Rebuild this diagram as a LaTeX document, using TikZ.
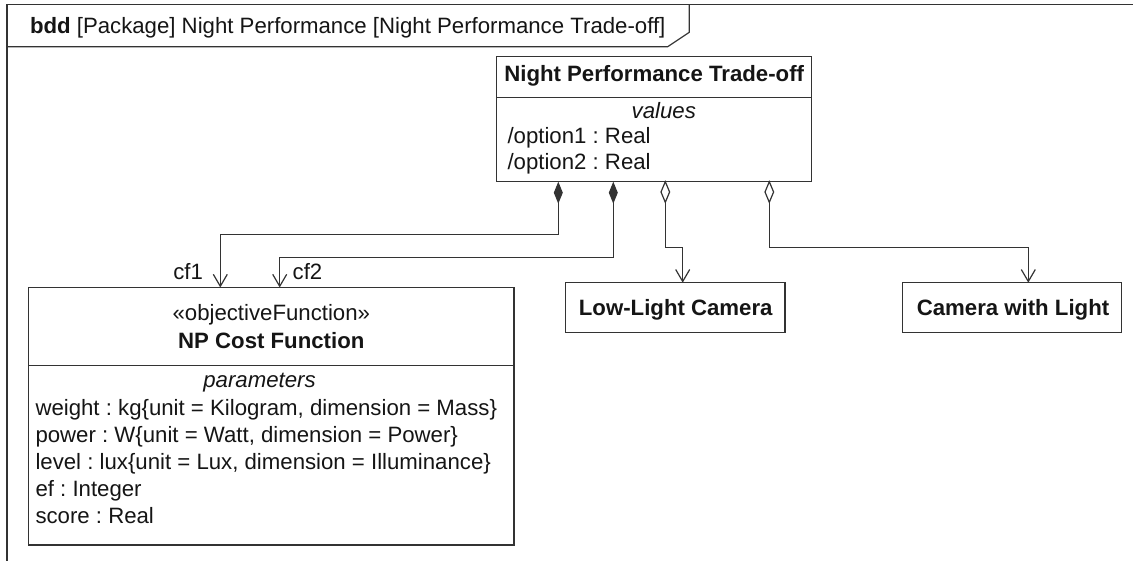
\documentclass[tikz,border=0pt]{standalone}
\usepackage{fontspec}
\setmainfont{Liberation Sans}
\usetikzlibrary{arrows.meta}
\definecolor{ln}{HTML}{333333}
\definecolor{tx}{HTML}{151515}
\frenchspacing
\begin{document}
\begin{tikzpicture}[x=1pt,y=-1pt,
  every node/.style={inner sep=0pt, outer sep=0pt, text=tx, font=\fontsize{22.2}{26}\selectfont\frenchspacing},
  box/.style={draw=ln, line width=1.2pt, rectangle, anchor=north west},
  lbl/.style={anchor=base},
  lbll/.style={anchor=base west},
  conn/.style={draw=ln, line width=1.2pt},
  compo/.style={conn, {Diamond[length=22pt,width=9pt]}-{Straight Barb[length=12pt,width=14pt]}},
  aggr/.style={conn, -{Straight Barb[length=12pt,width=14pt]}},
  odmd/.style={draw=ln, line width=1.2pt, fill=white, line join=miter}
]
\useasboundingbox (0,0) rectangle (1133,560);
\fill[white] (0,0) rectangle (1133,560);
% frame
\draw[ln, line width=1.2pt] (1140,4.5) -- (7,4.5) -- (7,570);
\draw[ln, line width=1.2pt] (7,46.7) -- (667.7,46.7) -- (689.3,32.3) -- (689.3,4.5);
\node[lbll] (hdr) at (30,33) {\textbf{bdd} [Package] Night Performance [Night Performance Trade-off]};
% Night Performance Trade-off
\node[box, minimum width=315pt, minimum height=125pt] (npt) at (496.7,56.7) {};
\draw[ln, line width=1.2pt] ([yshift=-41pt]npt.north west) -- ([yshift=-41pt]npt.north east);
\node[lbl] (ntitle) at (654.2,81.7) {\textbf{Night Performance Trade-off}};
\node[lbl] (nvals) at (663.8,118.3) {\textit{values}};
\node[lbll] (nopt1) at (507.5,143.5) {/option1 : Real};
\node[lbll] (nopt2) at (507.5,169.5) {/option2 : Real};
% NP Cost Function
\node[box, minimum width=485.2pt, minimum height=257.5pt] (np) at (28.7,287.5) {};
\draw[ln, line width=1.2pt] ([yshift=-78pt]np.north west) -- ([yshift=-78pt]np.north east);
\node[lbl] (nster) at (271.3,320) {«objectiveFunction»};
\node[lbl] (nname) at (271.3,348) {\textbf{NP Cost Function}};
\node[lbl] (npar) at (259.5,387) {\textit{parameters}};
\node[lbll] (p1) at (35.5,415.7) {weight : kg\{unit = Kilogram, dimension = Mass\}};
\node[lbll] (p2) at (35.5,442.6) {power : W\{unit = Watt, dimension = Power\}};
\node[lbll] (p3) at (35.5,469.5) {level : lux\{unit = Lux, dimension = Illuminance\}};
\node[lbll] (p4) at (35.5,496.4) {ef : Integer};
\node[lbll] (p5) at (35.5,523.3) {score : Real};
% cameras
\node[box, minimum width=219.3pt, minimum height=50pt] (llc) at (565.7,282.7) {};
\node[lbl] (llct) at (675.8,315.5) {\textbf{Low-Light Camera}};
\node[box, minimum width=219.4pt, minimum height=50pt] (cwl) at (902.3,282.7) {};
\node[lbl] (cwlt) at (1013,315.2) {\textbf{Camera with Light}};
% connectors
\draw[compo] ([xshift=61.6pt]npt.south west) -- ++(0,53) -| ([xshift=191.6pt]np.north west);
\draw[compo] ([xshift=116.6pt]npt.south west) -- ++(0,75.7) -| ([xshift=251pt]np.north west);
\draw[aggr] ([xshift=168.6pt]npt.south west) -- ++(0,65.6) -| ([xshift=117pt]llc.north west);
\draw[aggr] ([xshift=272.6pt]npt.south west) -- ++(0,65.6) -| ([xshift=126pt]cwl.north west);
\draw[odmd] ([xshift=168.6pt]npt.south west) -- ++(4.3,10.3) -- ++(-4.3,10.3) -- ++(-4.3,-10.3) -- cycle;
\draw[odmd] ([xshift=272.6pt]npt.south west) -- ++(4.3,10.3) -- ++(-4.3,10.3) -- ++(-4.3,-10.3) -- cycle;
\node[anchor=base east] (cf1) at (203,279.3) {cf1};
\node[anchor=base west] (cf2) at (292.7,279.3) {cf2};
\end{tikzpicture}
\end{document}
